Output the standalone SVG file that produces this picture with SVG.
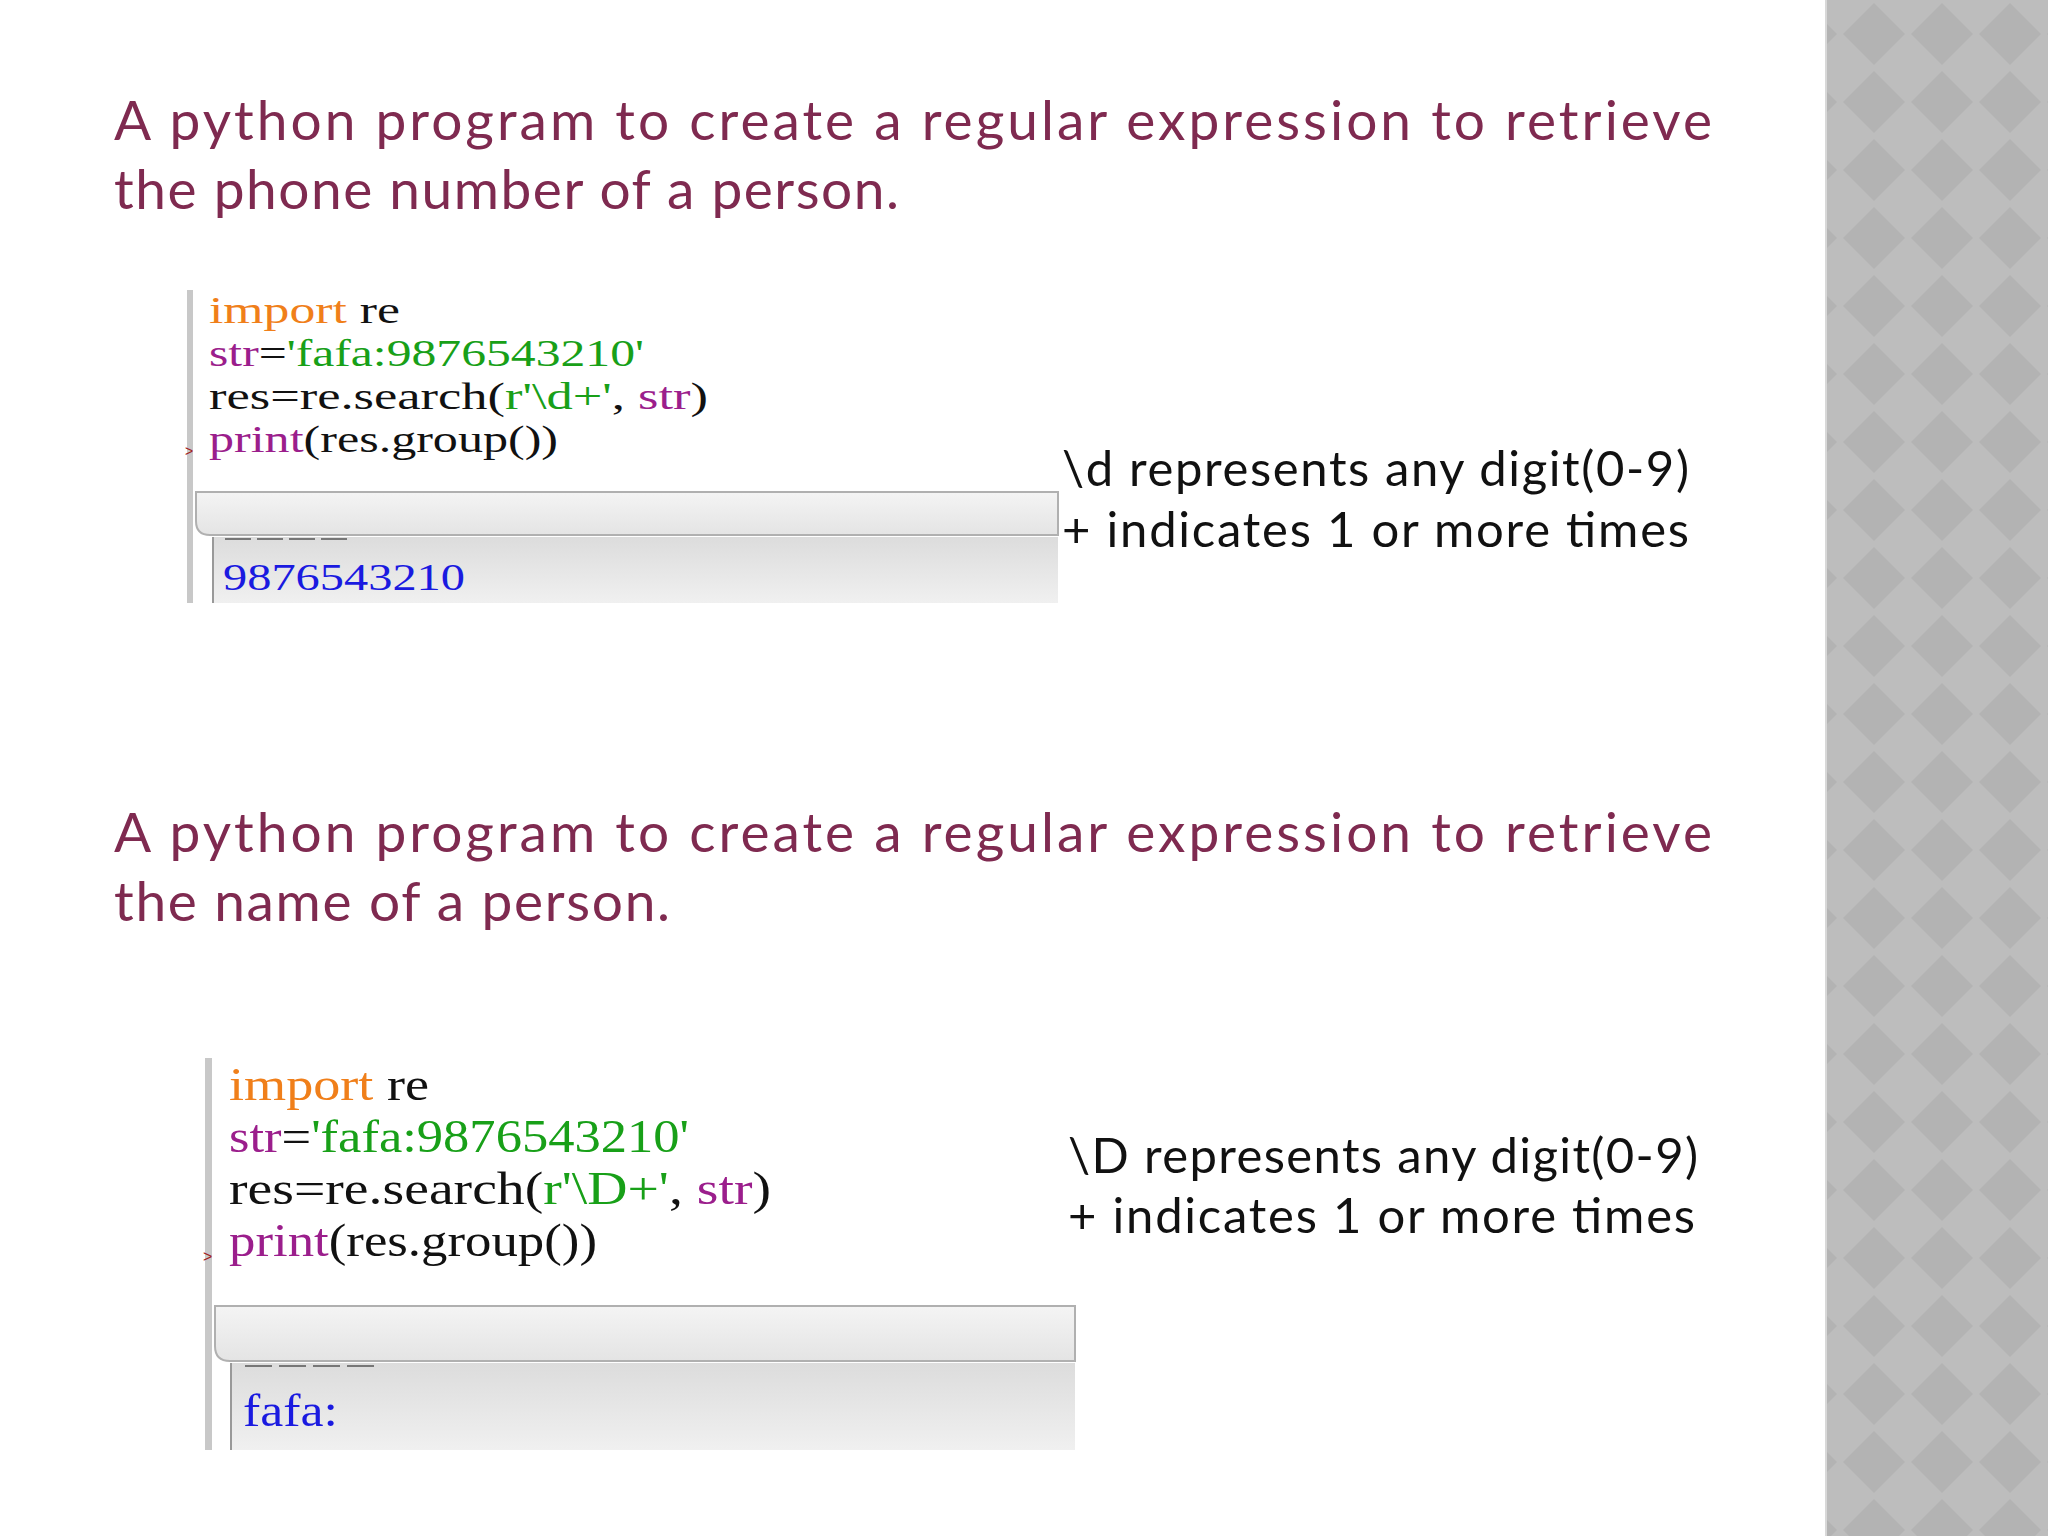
<svg xmlns="http://www.w3.org/2000/svg" width="2048" height="1536" viewBox="0 0 2048 1536">
<defs>
<pattern id="dia" x="1840" y="0" width="68" height="68" patternUnits="userSpaceOnUse">
<rect width="68" height="68" fill="#bdbdbd"/>
<polygon points="34,3 65,34 34,65 3,34" fill="#b3b3b3"/>
</pattern>
<linearGradient id="g" x1="0" y1="0" x2="0" y2="1"><stop offset="0" stop-color="#f4f4f4"/><stop offset="1" stop-color="#e4e4e4"/></linearGradient>
<linearGradient id="g2" x1="0" y1="0" x2="0" y2="1"><stop offset="0" stop-color="#dcdcdc"/><stop offset="1" stop-color="#f0f0f0"/></linearGradient>
</defs>
<style>
.t{font-family:Lato,"DejaVu Sans",sans-serif;font-size:55px;fill:#7f2a50}
.r{font-family:Lato,"DejaVu Sans",sans-serif;font-size:49px;fill:#111}
.c{font-family:"Liberation Serif",serif;fill:#111}
.o{fill:#f07f1a}.p{fill:#9b1e8c}.gr{fill:#18a018}.b{fill:#1a1ae0}
</style>
<rect width="2048" height="1536" fill="#fff"/>
<rect x="1826" y="0" width="222" height="1536" fill="url(#dia)"/>
<line x1="1826" y1="0" x2="1826" y2="1536" stroke="#d8d8d8" stroke-width="2"/>
<g id="title1">
<text class="t" x="114" y="140" textLength="1598" lengthAdjust="spacing">A python program to create a regular expression to retrieve</text>
<text class="t" x="114" y="209" textLength="785">the phone number of a person.</text>
</g>
<g id="code1">
<rect x="187" y="290" width="871" height="313" fill="#fff"/>
<rect x="187" y="290" width="6" height="313" fill="#c8c8c8"/>
<path d="M196,492 H1058 V535 H210 Q196,535 196,521 Z" fill="url(#g)" stroke="#b0b0b0" stroke-width="2"/>
<rect x="213" y="537" width="845" height="66" fill="url(#g2)"/>
<line x1="213" y1="537" x2="213" y2="603" stroke="#999" stroke-width="2"/>
<line x1="225" y1="539" x2="350" y2="539" stroke="#777" stroke-width="2" stroke-dasharray="26,6"/>
<g class="c" font-size="37">
<text x="209" y="323" textLength="191" lengthAdjust="spacingAndGlyphs"><tspan class="o">import</tspan> re</text>
<text x="209" y="366" textLength="435" lengthAdjust="spacingAndGlyphs"><tspan class="p">str</tspan>=<tspan class="gr">'fafa:9876543210'</tspan></text>
<text x="209" y="409" textLength="499" lengthAdjust="spacingAndGlyphs">res=re.search(<tspan class="gr">r'\d+'</tspan>, <tspan class="p">str</tspan>)</text>
<text x="209" y="452" textLength="349" lengthAdjust="spacingAndGlyphs"><tspan class="p">print</tspan>(res.group())</text>
<text class="b" x="223" y="590" textLength="242" lengthAdjust="spacingAndGlyphs">9876543210</text>
</g>
<text x="185" y="456" font-family="Liberation Sans,sans-serif" font-size="14" fill="#a02020">&gt;</text>
</g>
<g id="note1">
<text class="r" x="1062" y="486" textLength="627">\d represents any digit(0-9)</text>
<text class="r" x="1062" y="547" textLength="627">+ indicates 1 or more times</text>
</g>
<g id="title2">
<text class="t" x="114" y="852" textLength="1598" lengthAdjust="spacing">A python program to create a regular expression to retrieve</text>
<text class="t" x="114" y="921" textLength="556">the name of a person.</text>
</g>
<g id="code2">
<rect x="205" y="1058" width="870" height="392" fill="#fff"/>
<rect x="205" y="1058" width="7" height="392" fill="#c8c8c8"/>
<path d="M215,1306 H1075 V1361 H230 Q215,1361 215,1346 Z" fill="url(#g)" stroke="#b0b0b0" stroke-width="2"/>
<rect x="231" y="1363" width="844" height="87" fill="url(#g2)"/>
<line x1="231" y1="1363" x2="231" y2="1450" stroke="#999" stroke-width="2"/>
<line x1="245" y1="1366" x2="375" y2="1366" stroke="#777" stroke-width="2" stroke-dasharray="27,7"/>
<g class="c" font-size="47">
<text x="229" y="1100" textLength="200" lengthAdjust="spacingAndGlyphs"><tspan class="o">import</tspan> re</text>
<text x="229" y="1152" textLength="460" lengthAdjust="spacingAndGlyphs"><tspan class="p">str</tspan>=<tspan class="gr">'fafa:9876543210'</tspan></text>
<text x="229" y="1204" textLength="542" lengthAdjust="spacingAndGlyphs">res=re.search(<tspan class="gr">r'\D+'</tspan>, <tspan class="p">str</tspan>)</text>
<text x="229" y="1256" textLength="368" lengthAdjust="spacingAndGlyphs"><tspan class="p">print</tspan>(res.group())</text>
<text class="b" x="243" y="1426" textLength="95" lengthAdjust="spacingAndGlyphs">fafa:</text>
</g>
<text x="203" y="1262" font-family="Liberation Sans,sans-serif" font-size="16" fill="#a02020">&gt;</text>
</g>
<g id="note2">
<text class="r" x="1068" y="1173" textLength="630">\D represents any digit(0-9)</text>
<text class="r" x="1068" y="1233" textLength="627">+ indicates 1 or more times</text>
</g>
<g id="connectors"/>
</svg>
